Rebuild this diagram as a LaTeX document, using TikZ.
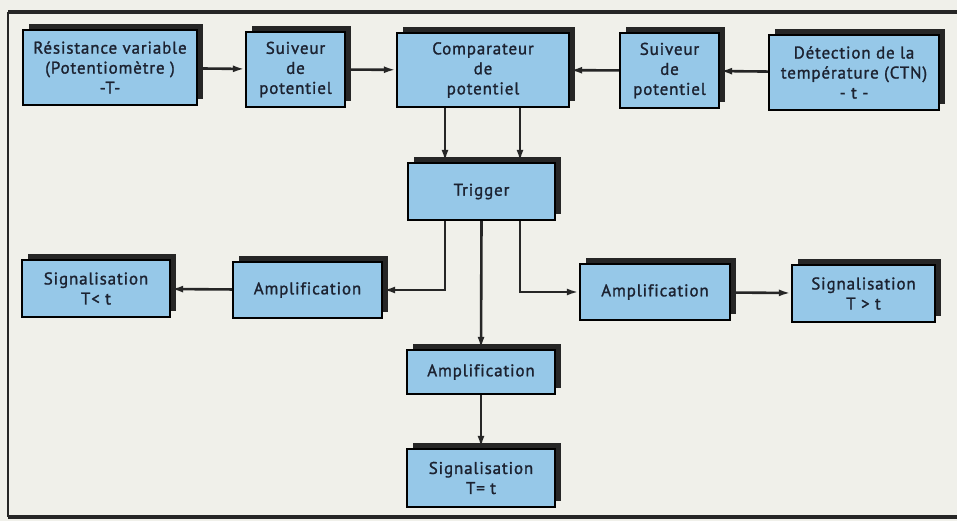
\documentclass[tikz,border=0pt]{standalone}
\usepackage{fontspec}
\setmainfont{PT Sans}[LetterSpace=5,FakeBold=1.3,Ligatures=NoCommon]
\usetikzlibrary{arrows.meta,shadows}
\definecolor{boxblue}{RGB}{150,200,232}
\definecolor{paper}{RGB}{240,240,234}
\definecolor{ink}{RGB}{28,34,48}
\begin{document}
\begin{tikzpicture}[x=1pt,y=-1pt,->,>={Latex[length=12pt,width=7pt]}]
        \tikzstyle{block}=[rectangle,draw=black,line width=2.4pt,fill=boxblue,align=center,
          font=\fontsize{17}{20}\selectfont,text=ink,inner sep=1pt,
          drop shadow={shadow xshift=6pt,shadow yshift=6pt,fill=black!85,opacity=1}]
        \tikzstyle{edge}=[draw,line width=2.6pt,black!85]
        \tikzstyle{frame}=[draw,black!85,-]
        % paper and frame
        \fill[paper] (0,0) rectangle (957,521);
        \useasboundingbox (0,0) rectangle (957,521);
        \draw[frame,line width=4.5pt] (957,12) -- (8,12);
        \draw[frame,line width=2.5pt] (8,12) -- (8,517);
        \draw[frame,line width=3.5pt] (8,517) -- (957,517);
       \begin{scope}
         % top row
         \node [block,minimum width=174pt,minimum height=75pt] (res) at (110,67.5) {Résistance variable\\(Potentiomètre )\\-T-};
         \node [block,minimum width=99pt,minimum height=75pt] (suivL) at (295.5,69.5) {Suiveur\\de\\potentiel};
         \node [block,minimum width=172pt,minimum height=74pt] (comp) at (483,70) {Comparateur\\de\\potentiel};
         \node [block,minimum width=99pt,minimum height=75pt] (suivR) at (669.5,70.5) {Suiveur\\de\\potentiel};
         \node [block,minimum width=170pt,minimum height=75pt] (det) at (854,72.5) {Détection de la\\température (CTN)\\- t -};
         % trigger and outputs
         \node [block,minimum width=147pt,minimum height=57pt] (trig) at (481.5,191.5) {Trigger};
         \node [block,minimum width=148pt,minimum height=57pt] (sigL) at (96,288.5) {Signalisation\\T< t};
         \node [block,minimum width=149pt,minimum height=56pt] (ampL) at (307.5,290) {Amplification};
         \node [block,minimum width=150pt,minimum height=56pt] (ampR) at (655,292) {Amplification};
         \node [block,minimum width=143pt,minimum height=57pt] (sigR) at (863.5,293.5) {Signalisation\\T > t};
         \node [block,minimum width=148pt,minimum height=44pt] (ampM) at (481,372) {Amplification};
         \node [block,minimum width=148pt,minimum height=58pt] (sigM) at (481,478) {Signalisation\\T= t};

         \path[edge] (res) -- (suivL);
         \path[edge] (suivL) -- (comp);
         \path[edge] (suivR) -- (comp);
         \path[edge] (det) -- (suivR);

         \path[edge] ([xshift=-38pt]comp.south) -- ([xshift=-38pt]comp.south |- trig.north);
         \path[edge] ([xshift=37pt]comp.south) -- ([xshift=37pt]comp.south |- trig.north);

         \path[edge] ([xshift=-36.5pt]trig.south) |- (ampL.east);
         \path[edge] (trig.south) -- (ampM.north);
         \path[edge] ([xshift=38.5pt]trig.south) |- (ampR.west);

         \path[edge] (ampL) -- (sigL);
         \path[edge] (ampR) -- (sigR);
         \path[edge] (ampM) -- (sigM);
        \end{scope}
      \end{tikzpicture}
\end{document}
